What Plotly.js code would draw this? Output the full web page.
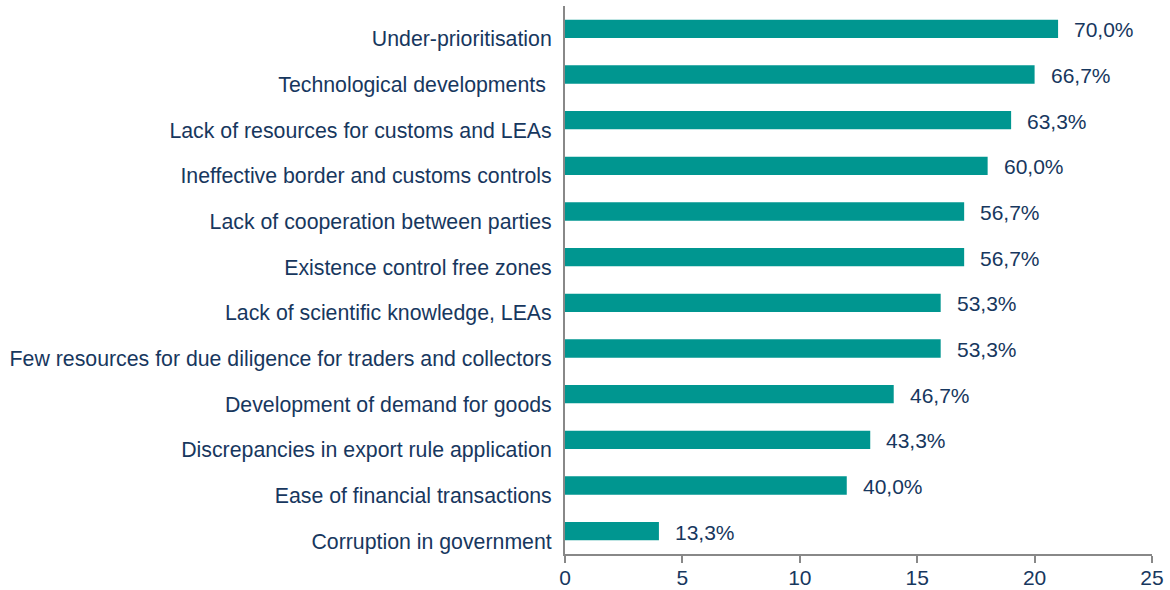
<!DOCTYPE html>
<html>
<head>
<meta charset="utf-8">
<script src="https://cdn.plot.ly/plotly-3.0.1.min.js"></script>
<style>html,body{margin:0;padding:0;background:#fff;}#chart{width:1170px;height:590px;}</style>
</head>
<body>
<div id="chart"></div>
<script>
const categories = [
  "Under-prioritisation",
  "Technological developments\u00a0",
  "Lack of resources for customs and LEAs",
  "Ineffective border and customs controls",
  "Lack of cooperation between parties",
  "Existence control free zones",
  "Lack of scientific knowledge, LEAs",
  "Few resources for due diligence for traders and collectors",
  "Development of demand for goods",
  "Discrepancies in export rule application",
  "Ease of financial transactions",
  "Corruption in government"
];
const values = [21, 20, 19, 18, 17, 17, 16, 16, 14, 13, 12, 4];
const percentLabels = ["70,0%", "66,7%", "63,3%", "60,0%", "56,7%", "56,7%", "53,3%", "53,3%", "46,7%", "43,3%", "40,0%", "13,3%"];
const xTicks = [0, 5, 10, 15, 20, 25];

const navy = "#17375e";
const font = {family: "Liberation Sans, Arial, sans-serif", size: 21, color: navy};
const catFont = {family: "Liberation Sans, Arial, sans-serif", size: 21.3, color: navy};

const trace = {
  type: "bar",
  orientation: "h",
  x: values,
  y: categories,
  width: 0.4,
  marker: {color: "#009690"},
  hoverinfo: "skip"
};

const annotations = values.map((v, i) => ({
  x: v, y: categories[i], xref: "x", yref: "y",
  text: percentLabels[i], showarrow: false,
  xanchor: "left", yanchor: "middle", xshift: 14, yshift: -1,
  font: font
}));

const layout = {
  width: 1170, height: 590,
  margin: {l: 565, r: 18, t: 6, b: 36, pad: 0},
  paper_bgcolor: "#fff", plot_bgcolor: "#fff",
  font: font,
  showlegend: false,
  bargap: 0.6,
  xaxis: {
    range: [0, 25], tickvals: xTicks, ticktext: xTicks.map(String),
    showgrid: false, zeroline: false,
    showline: true, linecolor: "#888888", linewidth: 2,
    ticks: "outside", ticklen: 7, tickwidth: 2, tickcolor: "#888888",
    ticklabelstandoff: -3,
    tickfont: font, fixedrange: true
  },
  yaxis: {
    type: "category", autorange: "reversed",
    showgrid: false, zeroline: false,
    showline: true, linecolor: "#888888", linewidth: 2,
    ticks: "", ticklabelstandoff: 7, ticklabelshift: -10,
    tickfont: catFont, fixedrange: true
  },
  annotations: annotations
};

Plotly.newPlot("chart", [trace], layout, {displayModeBar: false, staticPlot: true});
</script>
</body>
</html>
